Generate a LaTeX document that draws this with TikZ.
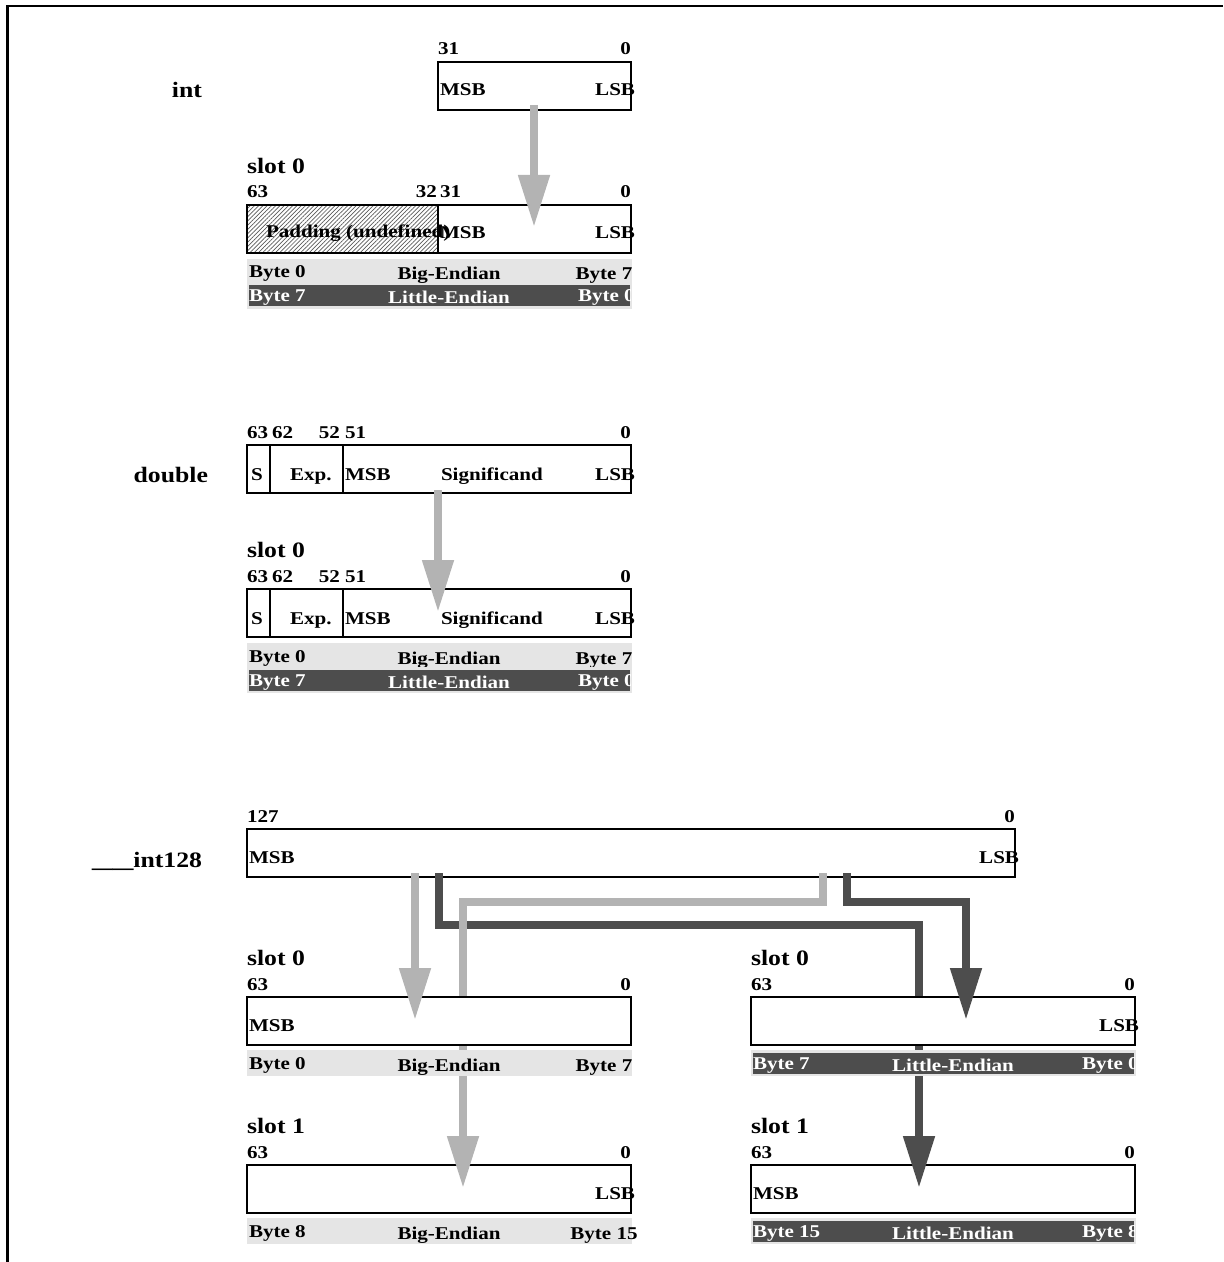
\documentclass[tikz,border=0pt]{standalone}
\usepackage{fontspec}
\setmainfont[FakeStretch=1.17]{Liberation Serif}
\usetikzlibrary{arrows.meta,patterns.meta}
\definecolor{arrlight}{HTML}{B3B3B3}
\definecolor{arrdark}{HTML}{4D4D4D}
\definecolor{barlight}{HTML}{E5E5E5}

\begin{document}
\begin{tikzpicture}[x=0.5pt,y=-0.5pt,
  every node/.style={inner sep=0pt,outer sep=0pt},
  small/.style={font=\fontsize{9}{10}\selectfont\bfseries},
  big/.style={font=\fontsize{11}{13}\selectfont\bfseries},
  reg/.style={draw,line width=1pt,fill=white},
  pad/.style={draw,line width=1pt,pattern={Lines[angle=45,distance=1.5pt,line width=0.35pt]},pattern color=black!65},
  arrlt/.style={draw=arrlight,line width=4pt,-{Triangle[width=15pt,length=26pt]}},
  arrdk/.style={draw=arrdark,line width=4pt,-{Triangle[width=15pt,length=26pt]}}]
\useasboundingbox (0,0) rectangle (1223,1262);

% bars below a slot: x, y, left text, right text, name
\def\bebar#1#2#3#4#5{%
 \fill[barlight] (#1,#2) rectangle (#1+385,#2+26);
 \node[small,anchor=base west] (#5l) at (#1+2,#2+19) {#3};
 \node[small,anchor=base] (#5c) at (#1+202,#2+21) {Big-Endian};
 \node[small,anchor=base] (#5r) at (#1+357,#2+21) {#4};
}
\def\lebar#1#2#3#4#5{%
 \fill[barlight] (#1,#2) rectangle (#1+385,#2+26);
 \fill[arrdark] (#1+2,#2+2.5) rectangle (#1+383,#2+23.5);
 \node[small,text=white,anchor=base west] (#5l) at (#1+2,#2+19) {#3};
 \node[small,text=white,anchor=base] (#5c) at (#1+202,#2+21) {Little-Endian};
 \begin{scope}
  \clip (#1+2,#2+2.5) rectangle (#1+383,#2+23.5);
  \node[small,text=white,anchor=base west] (#5r) at (#1+331,#2+19) {#4};
 \end{scope}
}

\draw[line width=1.2pt] (7.5,1262) -- (7.5,6) -- (1223,6);

%%%%% int starts here
\node[big,anchor=base east] (intname) at (202,98) {int};
\draw[reg] (438,62) rectangle (631,110);
\node[small,anchor=base west] (int31) at (438,55) {31};
\node[small,anchor=base east] (int0) at (631,55) {0};
\node[small,anchor=base west] (intmsb) at (440,96) {MSB};
\node[small,anchor=base east] (intlsb) at (635,96) {LSB};

\node[big,anchor=base west] (islot) at (247,174) {slot 0};
\node[small,anchor=base west] (is63) at (247,198) {63};
\node[small,anchor=base east] (is32) at (437,198) {32};
\node[small,anchor=base west] (is31) at (440,198) {31};
\node[small,anchor=base east] (is0) at (631,198) {0};
\draw[pad] (247,205) rectangle (438,253);
\draw[reg] (438,205) rectangle (631,253);
\node[small,anchor=base west] (ispad) at (266,238) {Padding (undefined)};
\node[small,anchor=base west] (ismsb) at (440,239) {MSB};
\node[small,anchor=base east] (islsb) at (635,239) {LSB};
\bebar{247}{259}{Byte 0}{Byte 7}{ibe}
\lebar{247}{283}{Byte 7}{Byte 0}{ile}

\coordinate (ia) at (534,105);
\coordinate (ib) at (534,227);
\draw[arrlt] (ia) -- (ib);
%%%%% int ends here

%%%%% double starts here
\node[big,anchor=base east] (dblname) at (208,482) {double};
\foreach \ty/\nm in {445/dt,589/ds}{
 \node[small,anchor=base west] (\nm63) at (247,\ty-7) {63};
 \node[small,anchor=base west] (\nm62) at (272,\ty-7) {62};
 \node[small,anchor=base east] (\nm52) at (340,\ty-7) {52};
 \node[small,anchor=base west] (\nm51) at (345,\ty-7) {51};
 \node[small,anchor=base east] (\nm0) at (631,\ty-7) {0};
 \draw[reg] (247,\ty) rectangle (631,\ty+48);
 \draw[line width=1pt] (270,\ty) -- (270,\ty+48);
 \draw[line width=1pt] (343,\ty) -- (343,\ty+48);
 \node[small,anchor=base west] (\nm s) at (251,\ty+35) {S};
 \node[small,anchor=base west] (\nm exp) at (290,\ty+35) {Exp.};
 \node[small,anchor=base west] (\nm msb) at (345,\ty+35) {MSB};
 \node[small,anchor=base west] (\nm sig) at (441,\ty+35) {Significand};
 \node[small,anchor=base east] (\nm lsb) at (635,\ty+35) {LSB};
}
\node[big,anchor=base west] (dslot) at (247,557) {slot 0};
\bebar{247}{643}{Byte 0}{Byte 7}{dbe}
\lebar{247}{667}{Byte 7}{Byte 0}{dle}

\coordinate (da) at (438,490);
\coordinate (db) at (438,612);
\draw[arrlt] (da) -- (db);
%%%%% double ends here

%%%%% __int128 starts here
\node[big,anchor=base east] (qname) at (202,867) {\scalebox{1.6}[1]{\_\_}int128};
\node[small,anchor=base west] (q127) at (247,822) {127};
\node[small,anchor=base east] (q0) at (1015,822) {0};
\draw[reg] (247,829) rectangle (1015,877);
\node[small,anchor=base west] (qmsb) at (249,863) {MSB};
\node[small,anchor=base east] (qlsb) at (1019,863) {LSB};

% slot 1, under the long arrows
\foreach \sx/\nm in {247/bs,751/ls}{
 \node[big,anchor=base west] (\nm1) at (\sx,1133) {slot 1};
 \node[small,anchor=base west] (\nm1h) at (\sx,1158) {63};
 \node[small,anchor=base east] (\nm1l) at (\sx+384,1158) {0};
 \draw[reg] (\sx,1165) rectangle (\sx+384,1213);
}
\node[small,anchor=base east] (bs1lsb) at (635,1199) {LSB};
\node[small,anchor=base west] (ls1msb) at (753,1199) {MSB};
\bebar{247}{1218}{Byte 8}{Byte 15}{bse}
\lebar{751}{1218}{Byte 15}{Byte 8}{lse}

\coordinate (d1) at (439,873);
\coordinate (d2) at (439,925);
\coordinate (d3) at (919,925);
\coordinate (d4) at (919,1188);
\draw[arrdk] (d1) -- (d2) -- (d3) -- (d4);
\coordinate (l1) at (823,873);
\coordinate (l2) at (823,902);
\coordinate (l3) at (463,902);
\coordinate (l4) at (463,1188);
\draw[arrlt] (l1) -- (l2) -- (l3) -- (l4);

% slot 0, over the long arrows
\foreach \sx/\nm in {247/bs,751/ls}{
 \node[big,anchor=base west] (\nm0) at (\sx,965) {slot 0};
 \node[small,anchor=base west] (\nm0h) at (\sx,990) {63};
 \node[small,anchor=base east] (\nm0l) at (\sx+384,990) {0};
 \draw[reg] (\sx,997) rectangle (\sx+384,1045);
}
\node[small,anchor=base west] (bs0msb) at (249,1031) {MSB};
\node[small,anchor=base east] (ls0lsb) at (1139,1031) {LSB};
\bebar{247}{1050}{Byte 0}{Byte 7}{bsz}
\lebar{751}{1050}{Byte 7}{Byte 0}{lsz}

\coordinate (s1) at (415,873);
\coordinate (s2) at (415,1020);
\draw[arrlt] (s1) -- (s2);
\coordinate (r1) at (847,873);
\coordinate (r2) at (847,902);
\coordinate (r3) at (966,902);
\coordinate (r4) at (966,1020);
\draw[arrdk] (r1) -- (r2) -- (r3) -- (r4);
%%%%% __int128 ends here
\end{tikzpicture}
\end{document}
